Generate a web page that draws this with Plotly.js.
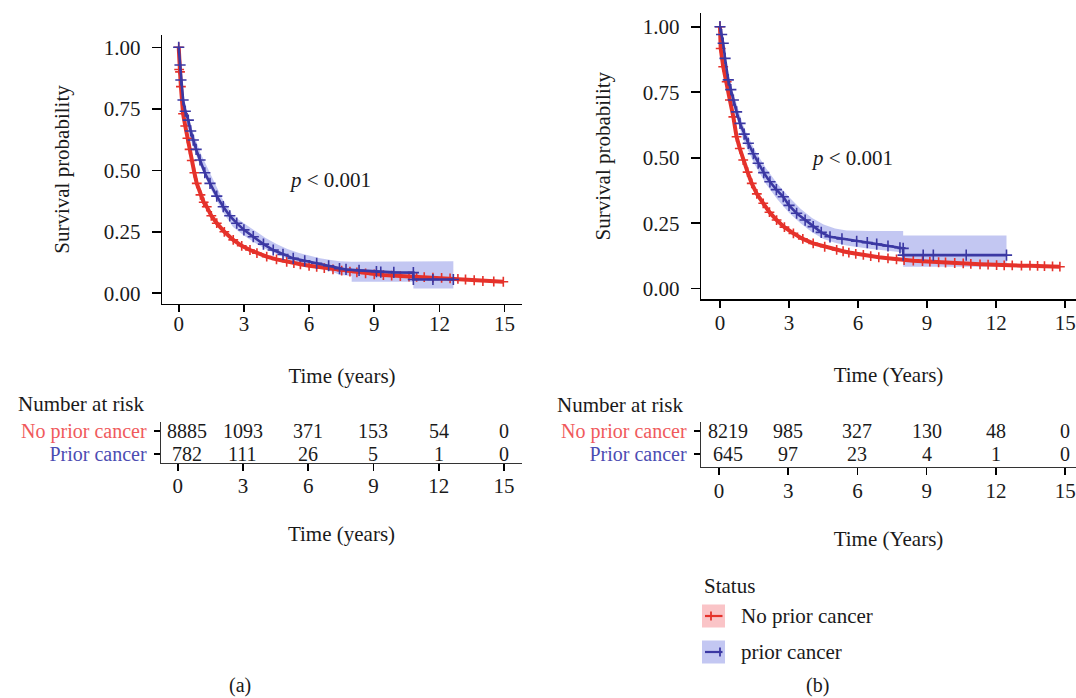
<!DOCTYPE html>
<html>
<head>
<meta charset="utf-8">
<script src="https://cdn.plot.ly/plotly-3.0.1.min.js"></script>
<style>html,body{margin:0;padding:0;background:#fff;}#chart{width:1076px;height:698px;}</style>
</head>
<body>
<div id="chart"></div>
<script>
// ---------- data ----------
// Panel (a): No prior cancer
const timeA_no = [0, 0.02, 0.06, 0.10, 0.20, 0.30, 0.40, 0.50, 0.60, 0.72, 0.83, 1.00, 1.15, 1.29, 1.50, 1.75, 2.10, 2.51, 2.90, 3.28, 3.60, 4.05, 4.50, 4.97, 5.30, 5.60, 6.00, 6.35, 6.70, 7.10, 7.50, 7.88, 8.20, 8.60, 9.00, 9.42, 9.80, 10.20, 10.60, 10.95, 11.30, 11.70, 12.10, 12.49, 12.85, 13.20, 13.60, 14.00, 14.50, 14.94];
const survA_no = [1.00, 0.91, 0.90, 0.84, 0.73, 0.68, 0.63, 0.585, 0.54, 0.49, 0.447, 0.40, 0.37, 0.352, 0.315, 0.285, 0.25, 0.217, 0.193, 0.176, 0.163, 0.149, 0.138, 0.128, 0.123, 0.118, 0.112, 0.108, 0.102, 0.097, 0.092, 0.088, 0.085, 0.081, 0.077, 0.074, 0.072, 0.070, 0.068, 0.067, 0.066, 0.064, 0.063, 0.061, 0.059, 0.056, 0.053, 0.050, 0.048, 0.047];
// Panel (a): Prior cancer
const timeA_pr = [0, 0.06, 0.10, 0.20, 0.30, 0.44, 0.55, 0.67, 0.80, 0.98, 1.20, 1.44, 1.75, 2.05, 2.35, 2.67, 3.00, 3.43, 3.90, 4.35, 4.80, 5.27, 5.80, 6.35, 6.90, 7.40, 7.70, 8.30, 9.10, 9.30, 9.90, 10.80, 10.80, 11.70, 12.64];
const survA_pr = [1.00, 0.928, 0.867, 0.786, 0.74, 0.704, 0.66, 0.623, 0.585, 0.542, 0.49, 0.447, 0.395, 0.352, 0.315, 0.285, 0.258, 0.23, 0.20, 0.176, 0.158, 0.142, 0.132, 0.122, 0.112, 0.100, 0.097, 0.093, 0.088, 0.086, 0.085, 0.084, 0.056, 0.056, 0.056];
// Panel (a): Prior cancer confidence band
const bandA_time  = [0, 0.1, 0.3, 0.6, 1.0, 1.5, 2.0, 2.5, 3.0, 3.5, 4.0, 4.5, 5.0, 5.5, 6.0, 6.5, 7.0, 7.4, 7.96, 7.96, 10.8, 10.8, 12.64];
const bandA_upper = [1.0, 0.89, 0.77, 0.67, 0.57, 0.475, 0.385, 0.315, 0.285, 0.255, 0.225, 0.20, 0.18, 0.165, 0.152, 0.142, 0.135, 0.13, 0.128, 0.128, 0.128, 0.13, 0.13];
const bandA_lower = [1.0, 0.84, 0.71, 0.61, 0.515, 0.42, 0.335, 0.27, 0.235, 0.205, 0.18, 0.16, 0.14, 0.125, 0.112, 0.10, 0.09, 0.075, 0.07, 0.047, 0.047, 0.02, 0.02];

// Panel (b): No prior cancer
const timeB_no = [0, 0.03, 0.14, 0.29, 0.43, 0.58, 0.72, 0.86, 1.01, 1.20, 1.38, 1.60, 1.88, 2.15, 2.46, 2.80, 3.19, 3.60, 4.05, 4.55, 5.07, 5.35, 5.60, 5.90, 6.23, 6.55, 6.90, 7.30, 7.67, 8.00, 8.40, 8.80, 9.12, 9.50, 9.80, 10.20, 10.57, 10.90, 11.30, 11.65, 12.02, 12.35, 12.70, 13.10, 13.47, 13.80, 14.10, 14.45, 14.77];
const survB_no = [1.0, 0.917, 0.847, 0.79, 0.72, 0.656, 0.58, 0.535, 0.491, 0.445, 0.402, 0.362, 0.326, 0.292, 0.262, 0.235, 0.211, 0.19, 0.173, 0.16, 0.148, 0.143, 0.138, 0.133, 0.129, 0.124, 0.12, 0.116, 0.112, 0.109, 0.107, 0.105, 0.103, 0.101, 0.10, 0.098, 0.097, 0.095, 0.093, 0.092, 0.09, 0.089, 0.089, 0.088, 0.088, 0.087, 0.086, 0.085, 0.084];
// Panel (b): Prior cancer
const timeB_pr = [0, 0.07, 0.14, 0.22, 0.36, 0.47, 0.58, 0.72, 0.87, 1.05, 1.23, 1.45, 1.66, 1.90, 2.17, 2.45, 2.75, 3.00, 3.33, 3.70, 4.05, 4.40, 4.78, 5.30, 5.94, 6.40, 6.81, 7.30, 7.82, 7.96, 7.96, 8.83, 9.27, 10.70, 12.45];
const survB_pr = [1.0, 0.97, 0.937, 0.879, 0.797, 0.76, 0.72, 0.675, 0.631, 0.59, 0.555, 0.515, 0.479, 0.443, 0.408, 0.378, 0.351, 0.318, 0.288, 0.262, 0.237, 0.215, 0.198, 0.19, 0.181, 0.176, 0.17, 0.163, 0.156, 0.154, 0.128, 0.128, 0.128, 0.128, 0.128];
// Panel (b): Prior cancer confidence band
const bandB_time  = [0, 0.2, 0.5, 1.0, 1.5, 2.0, 2.5, 3.0, 3.5, 4.0, 4.5, 5.0, 5.5, 6.0, 6.5, 7.0, 7.5, 7.96, 7.96, 12.45];
const bandB_upper = [1.0, 0.88, 0.77, 0.625, 0.53, 0.46, 0.40, 0.35, 0.305, 0.27, 0.245, 0.23, 0.222, 0.22, 0.22, 0.22, 0.22, 0.22, 0.203, 0.203];
const bandB_lower = [1.0, 0.86, 0.72, 0.57, 0.475, 0.40, 0.34, 0.29, 0.25, 0.215, 0.19, 0.175, 0.165, 0.158, 0.152, 0.148, 0.142, 0.138, 0.084, 0.084];

// Risk tables
const riskTimes = [0, 3, 6, 9, 12, 15];
const riskA_no = [8885, 1093, 371, 153, 54, 0];
const riskA_pr = [782, 111, 26, 5, 1, 0];
const riskB_no = [8219, 985, 327, 130, 48, 0];
const riskB_pr = [645, 97, 23, 4, 1, 0];
const groupNames = ['No prior cancer', 'Prior cancer'];
const legendNames = ['No prior cancer', 'prior cancer'];
const xTicks = [0, 3, 6, 9, 12, 15];
const yTicks = [0, 0.25, 0.5, 0.75, 1.0];

// ---------- styling ----------
const W = 1076, H = 698;
const FONT = 'Liberation Serif, DejaVu Serif, serif';
const FS = 21, FT = 20;
const INK = '#1a1a1a';
const RED = '#E5322B', BLUE = '#3B38A3';
const BAND = 'rgba(90,100,220,0.36)';
const RED_KEY = 'rgba(240,70,80,0.32)';
const fx = p => p / W, fy = p => 1 - p / H;

function band(t, lo, up, xa, ya) {
  return [
    {x: t, y: lo, xaxis: xa, yaxis: ya, mode: 'lines', line: {width: 0, color: BAND}, showlegend: false, hoverinfo: 'skip'},
    {x: t, y: up, xaxis: xa, yaxis: ya, mode: 'lines', line: {width: 0, color: BAND}, fill: 'tonexty', fillcolor: BAND, showlegend: false, hoverinfo: 'skip'}
  ];
}
function curve(t, s, color, lw, ms, xa, ya, name) {
  return {x: t, y: s, xaxis: xa, yaxis: ya, mode: 'lines+markers', name: name, showlegend: false,
    line: {color: color, width: lw},
    marker: {symbol: 'cross-thin', size: ms, color: color, line: {color: color, width: 1.6}}};
}

const traces = [
  ...band(bandA_time, bandA_lower, bandA_upper, 'x', 'y'),
  curve(timeA_no, survA_no, RED, 4, 7, 'x', 'y', groupNames[0]),
  curve(timeA_pr, survA_pr, BLUE, 2.6, 8, 'x', 'y', groupNames[1]),
  ...band(bandB_time, bandB_lower, bandB_upper, 'x2', 'y2'),
  curve(timeB_no, survB_no, RED, 4, 7, 'x2', 'y2', groupNames[0]),
  curve(timeB_pr, survB_pr, BLUE, 2.6, 8, 'x2', 'y2', groupNames[1])
];

const tickFont = {family: FONT, size: FS, color: INK};
const tabFont = {family: FONT, size: FT, color: INK};
function mainX(domain, range, title, anchor, standoff, lblOff) {
  return {domain: domain, range: range, anchor: anchor, tickvals: xTicks, showgrid: false, zeroline: false,
    showline: true, linecolor: '#000', linewidth: 1.4, ticks: 'outside', ticklen: 7, tickwidth: 1.6, tickcolor: '#000',
    ticklabelstandoff: lblOff,
    tickfont: tickFont, title: {text: title, font: {family: FONT, size: FS, color: INK}, standoff: standoff}};
}
function mainY(domain, range, anchor, standoff) {
  return {domain: domain, range: range, anchor: anchor, tickvals: yTicks, tickformat: '.2f', showgrid: false, zeroline: false,
    showline: true, linecolor: '#000', linewidth: 1.4, ticks: 'outside', ticklen: 9, tickwidth: 1.6, tickcolor: '#000',
    ticklabelstandoff: 7,
    tickfont: tickFont, title: {text: 'Survival probability', font: {family: FONT, size: FS, color: INK}, standoff: standoff}};
}
function tabX(domain, range, title, anchor, standoff, lblOff) {
  return {domain: domain, range: range, anchor: anchor, tickvals: xTicks, showgrid: false, zeroline: false,
    showline: true, linecolor: '#333', linewidth: 1.4, ticks: 'outside', ticklen: 7, tickwidth: 1.6, tickcolor: '#000',
    ticklabelstandoff: lblOff,
    tickfont: tickFont, title: {text: title, font: {family: FONT, size: FS, color: INK}, standoff: standoff}};
}
function tabY(domain, range, anchor) {
  return {domain: domain, range: range, anchor: anchor, tickvals: [1, 0],
    ticktext: ['<span style="color:#F05A5C">' + groupNames[0] + '</span>', '<span style="color:#4C4CB2">' + groupNames[1] + '</span>'],
    showgrid: false, zeroline: false, showline: true, linecolor: '#333', linewidth: 1.4, ticks: 'outside', ticklen: 6, tickwidth: 1.6, tickcolor: '#000',
    ticklabelstandoff: 3, tickfont: tabFont};
}

const annotations = [];
function riskRow(vals, y, xref, yref) {
  vals.forEach((v, i) => annotations.push({x: riskTimes[i], y: y, xref: xref, yref: yref, text: String(v), showarrow: false,
    xshift: i === 0 ? 9 : 0, font: tabFont}));
}
riskRow(riskA_no, 1, 'x3', 'y3');
riskRow(riskA_pr, 0, 'x3', 'y3');
riskRow(riskB_no, 1, 'x4', 'y4');
riskRow(riskB_pr, 0, 'x4', 'y4');
const txt = (text, x, y, extra) => Object.assign({text: text, x: fx(x), y: fy(y), xref: 'paper', yref: 'paper', showarrow: false,
  xanchor: 'center', yanchor: 'middle', font: {family: FONT, size: FS, color: INK}}, extra || {});
annotations.push(txt('Number at risk', 81, 404));
annotations.push(txt('Number at risk', 620, 405));
annotations.push(txt('<i>p</i> &lt; 0.001', 330, 180));
annotations.push(txt('<i>p</i> &lt; 0.001', 852, 158));
annotations.push(txt('(a)', 240, 685, {font: {family: FONT, size: 20, color: INK}}));
annotations.push(txt('(b)', 817, 685, {font: {family: FONT, size: 20, color: INK}}));
// legend (Status)
annotations.push(txt('Status', 702, 586, {xanchor: 'left'}));
annotations.push(txt(legendNames[0], 739, 616, {xanchor: 'left'}));
annotations.push(txt(legendNames[1], 739, 652, {xanchor: 'left'}));

const shapes = [];
function legendKey(yc, fill, color, crossX) {
  shapes.push({type: 'rect', xref: 'paper', yref: 'paper', x0: fx(702), x1: fx(725), y0: fy(yc - 11.5), y1: fy(yc + 11.5),
    fillcolor: fill, line: {width: 0}, layer: 'above'});
  shapes.push({type: 'line', xref: 'paper', yref: 'paper', x0: fx(705), x1: fx(722.5), y0: fy(yc), y1: fy(yc),
    line: {color: color, width: 2.2}, layer: 'above'});
  shapes.push({type: 'line', xref: 'paper', yref: 'paper', x0: fx(crossX), x1: fx(crossX), y0: fy(yc - 4.5), y1: fy(yc + 4.5),
    line: {color: color, width: 1.8}, layer: 'above'});
}
legendKey(616, RED_KEY, RED, 711);
legendKey(652, BAND, BLUE, 720);

const layout = {
  width: W, height: H, margin: {l: 0, r: 0, t: 0, b: 0},
  paper_bgcolor: '#fff', plot_bgcolor: 'rgba(0,0,0,0)',
  font: {family: FONT, size: FS, color: INK},
  showlegend: false,
  xaxis: mainX([fx(162), fx(522)], [-0.77, 15.8], 'Time (years)', 'y', 33, -7),
  yaxis: mainY([fy(304), fy(35)], [-0.0435, 1.05], 'x', 28),
  xaxis2: mainX([fx(701), 1], [-0.825, 15.47], 'Time (Years)', 'y2', 33, -3),
  yaxis2: mainY([fy(299.3), fy(13)], [-0.0405, 1.0523], 'x2', 26),
  xaxis3: tabX([fx(161), fx(522)], [-0.768, 15.83], 'Time (years)', 'y3', 29, -4),
  yaxis3: tabY([fy(463), fy(422)], [-0.391, 1.391], 'x3'),
  xaxis4: tabX([fx(701), 1], [-0.78, 15.47], 'Time (Years)', 'y4', 29, -3),
  yaxis4: tabY([fy(467), fy(422)], [-0.565, 1.391], 'x4'),
  annotations: annotations,
  shapes: shapes
};

Plotly.newPlot('chart', traces, layout, {displayModeBar: false, staticPlot: true});
</script>
</body>
</html>
